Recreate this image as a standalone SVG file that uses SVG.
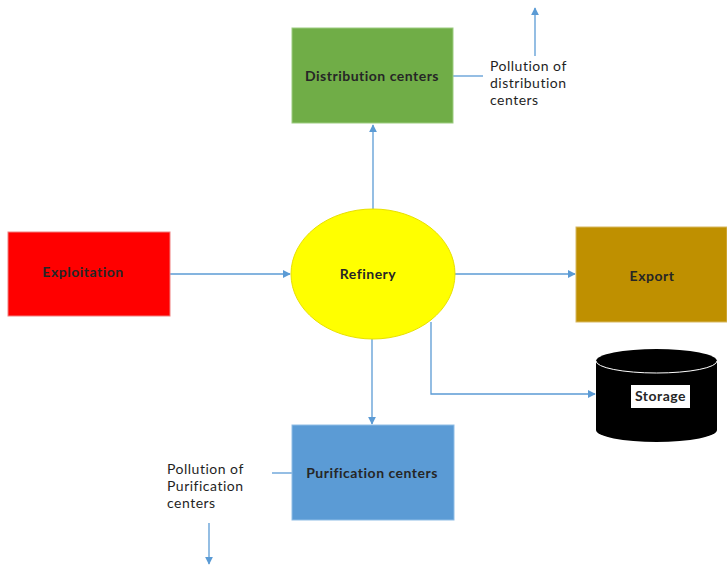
<svg xmlns="http://www.w3.org/2000/svg" width="727" height="565" viewBox="0 0 727 565">
<defs>
<marker id="ah" viewBox="0 0 10 10" refX="9" refY="5" markerWidth="8" markerHeight="8" markerUnits="userSpaceOnUse" orient="auto">
<path d="M0,0 L10,5 L0,10 z" fill="#5B9BD5"/>
</marker>
</defs>
<style>
text{font-family:Lato,"Open Sans","Liberation Sans",sans-serif;font-size:14px;letter-spacing:0.5px;fill:#1f1f1f}
.n{font-weight:bold;fill:#262626}
.c{text-anchor:middle}
.e{stroke:#5B9BD5;stroke-width:1.3;fill:none}
.a{marker-end:url(#ah)}
</style>
<rect width="727" height="565" fill="#fff"/>
<g id="connectors">
<line class="e a" x1="373" y1="209" x2="373" y2="125"/>
<line class="e" x1="453" y1="76" x2="483" y2="76"/>
<line class="e a" x1="535" y1="56" x2="535" y2="8"/>
<line class="e a" x1="170" y1="274" x2="290" y2="274"/>
<line class="e a" x1="455" y1="274" x2="575" y2="274"/>
<polyline class="e a" points="431,322 431,394 595,394"/>
<line class="e a" x1="372" y1="339" x2="372" y2="424"/>
<line class="e" x1="272" y1="473" x2="292" y2="473"/>
<line class="e a" x1="209" y1="523" x2="209" y2="564"/>
</g>
<g id="distribution">
<rect x="292" y="28" width="161" height="95" fill="#70AD47" stroke="#9ccc80" stroke-width="1"/>
<text class="n c" x="372" y="81">Distribution centers</text>
</g>
<g id="pollution-distribution">
<text x="490" y="71">Pollution of</text>
<text x="490" y="88">distribution</text>
<text x="490" y="105">centers</text>
</g>
<g id="exploitation">
<rect x="8" y="232" width="162" height="84" fill="#FF0000" stroke="#f08080" stroke-width="1"/>
<text class="n c" x="83" y="277">Exploitation</text>
</g>
<g id="refinery">
<ellipse cx="373" cy="274" rx="82" ry="65" fill="#FFFF00" stroke="#e8e000" stroke-width="1"/>
<text class="n c" x="368" y="279">Refinery</text>
</g>
<g id="export">
<rect x="576" y="227" width="151" height="95" fill="#BF9000" stroke="#d8b860" stroke-width="1"/>
<text class="n c" x="652" y="281">Export</text>
</g>
<g id="storage">
<path d="M596,361 L596,430 A60.5,12 0 0 0 717,430 L717,361 A60.5,12 0 0 0 596,361 Z" fill="#000"/>
<path d="M596,361 A60.5,12 0 0 0 717,361" fill="none" stroke="#fff" stroke-width="1"/>
<rect x="631" y="385" width="59" height="23" fill="#fff"/>
<text class="n c" x="660.5" y="401">Storage</text>
</g>
<g id="purification">
<rect x="292" y="425" width="162" height="95" fill="#5B9BD5" stroke="#8fbde6" stroke-width="1"/>
<text class="n c" x="372" y="478">Purification centers</text>
</g>
<g id="pollution-purification">
<text x="167" y="474">Pollution of</text>
<text x="167" y="491">Purification</text>
<text x="167" y="508">centers</text>
</g>
</svg>
